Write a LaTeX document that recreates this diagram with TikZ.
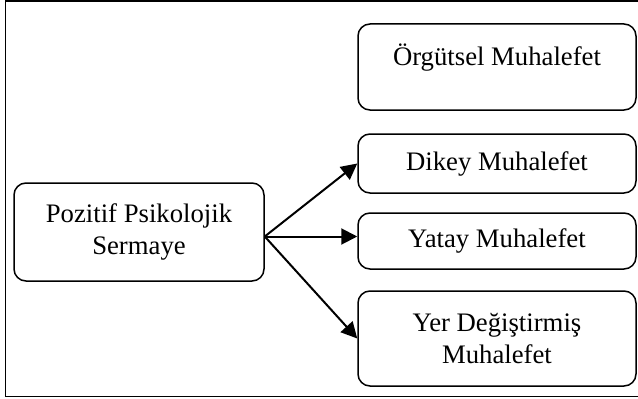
\documentclass[tikz,border=0pt]{standalone}
\usepackage{fontspec}
\setmainfont{Liberation Serif}
\usetikzlibrary{arrows.meta}
\begin{document}
\begin{tikzpicture}
[>={Triangle[length=0.32cm,width=0.32cm]},line width=0.03cm,
box/.style = {draw, rounded corners=0.24cm, align=center, inner sep=0pt, minimum width=5.56cm, font=\fontsize{15.2}{18}\selectfont},]
\def\bx{9.94}
\useasboundingbox (0,0) rectangle (12.76,7.96);
\draw (0.11,7.94) rectangle (12.9,0.03);
\node (P) at (2.78,3.32)[box,minimum width=5cm,minimum height=1.96cm] {Pozitif Psikolojik\\Sermaye};
\node (O) at (\bx,6.62)[box,minimum height=1.72cm,text depth=0.5cm] {Örgütsel Muhalefet};
\node (D) at (\bx,4.69)[box,minimum height=1.18cm] {Dikey Muhalefet};
\node (Y) at (\bx,3.14)[box,minimum height=1.12cm] {Yatay Muhalefet};
\node (YD) at (\bx,1.19)[box,minimum height=1.9cm] {Yer Değiştirmiş\\Muhalefet};
\coordinate (S) at ([yshift=-0.09cm]P.east);
\draw[->,line width=0.04cm] (S)--(D.west);
\draw[->,line width=0.04cm] (S)--(S -| Y.west);
\draw[->,line width=0.04cm] (S)--(YD.west);

\end{tikzpicture}
\end{document}
